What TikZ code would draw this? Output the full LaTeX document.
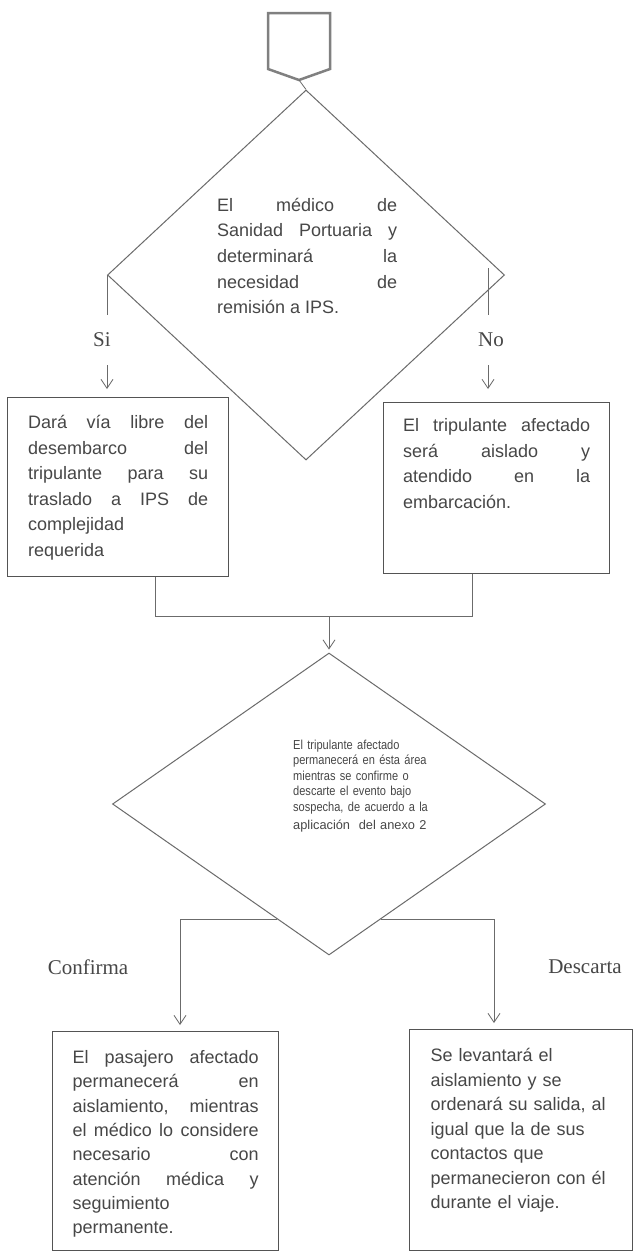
\documentclass[tikz,border=0pt]{standalone}
\usepackage{fontspec}
\setmainfont{Liberation Sans}
\newfontfamily\labelfont{Liberation Serif}
\newfontfamily\narrowfont[FakeStretch=0.85]{Liberation Sans}
\usepackage{tikz}
\usetikzlibrary{arrows.meta,shapes.geometric,calc}
\definecolor{inkline}{gray}{0.42}
\definecolor{inkbox}{gray}{0.33}
\definecolor{inktext}{gray}{0.28}
\tikzset{
  line/.style={draw=inkline,line width=0.8pt},
  flow/.style={line,-{Straight Barb[length=9pt,width=12pt]}},
  decision/.style={diamond,draw=inkline,line width=1pt,inner sep=0pt},
  process/.style={rectangle,draw=inkbox,line width=1.2pt,inner ysep=0pt,
    text=inktext,font=\fontsize{18}{25.5}\selectfont,align=justify,anchor=north west},
  answer/.style={text=inktext,font=\labelfont\fontsize{21}{21}\selectfont,
    inner sep=0pt,minimum height=50pt},
}
\newcommand{\qtext}{\fontsize{18}{25.7}\selectfont}

\begin{document}
\begin{tikzpicture}[x=1pt,y=-1pt]
\path[use as bounding box,fill=white] (0,0) rectangle (637,1258);
% \draw[help lines,step=50] (0,0) grid (637,1258);
%
% off-page connector
\draw[draw=gray,line width=2.5pt,line join=miter]
  (268,13) -- (330,13) -- (330,69) -- (299,80) -- (268,69) -- cycle;
\coordinate (start) at (299,80);
%
\node (d1) [decision,minimum width=397pt,minimum height=370pt] at (306,275) {};
\node (d1txt) [text=inktext,font=\qtext,text width=180pt,align=justify,
  inner sep=0pt,anchor=base west] at (217,211)
  {El médico de\linebreak Sanidad Portuaria y\linebreak determinará la\linebreak
   necesidad de\linebreak remisión a IPS.};
\draw[line] (start) -- (d1.north);
%
\node (si) [answer] at (102,340) {Si};
\node (no) [answer] at (491,340) {No};
\coordinate (notop) at (488,268);
%
\node (lbox) [process,text width=180pt,inner xsep=20.5pt,text height=31pt,text depth=148pt]
  at (7,397) {Dará vía libre del\linebreak desembarco del\linebreak tripulante para su\linebreak
  traslado a IPS de\linebreak complejidad\\ requerida};
\node (rbox) [process,text width=187pt,inner xsep=19.5pt,text height=29pt,text depth=142pt]
  at (383,402) {El tripulante afectado\linebreak será aislado y\linebreak atendido en la\linebreak
  embarcación.};
%
\draw[line] (d1.west) -- (d1.west |- si.north);
\draw[flow,shorten >=8pt] (d1.west |- si.south) -- (d1.west |- lbox.north);
\draw[line] (notop) -- (notop |- no.north);
\draw[flow,shorten >=13pt] (notop |- no.south) -- (notop |- rbox.north);
%
\coordinate (lj) at (155,616);
\coordinate (rj) at (472,616);
\coordinate (join) at (329,616);
\draw[line] (lbox.south -| lj) -- (lj) -- (rj) -- (rbox.south -| rj);
%
\node (d2) [decision,minimum width=433pt,minimum height=302pt] at (329,804) {};
\node (d2txt) [text=inktext,font=\narrowfont\fontsize{13}{15.5}\selectfont,text width=140pt,
  align=left,inner sep=0pt,anchor=base west] at (293,749)
  {El tripulante afectado\\ permanecerá en ésta área\\ mientras se confirme o\\
   descarte el evento bajo\\ sospecha, de acuerdo a la\\[2.5pt]
   {\rmfamily\fontsize{12.8}{15.5}\selectfont aplicación~ del anexo 2}};
\draw[flow,shorten >=3pt] (join) -- (d2.north);
%
\node (conf) [answer] at (88,967) {Confirma};
\node (desc) [answer] at (585,967) {Descarta};
%
\node (blbox) [process,text width=186pt,inner xsep=20pt,text height=32pt,text depth=187pt,
  font=\fontsize{18}{24.3}\selectfont] at (52,1031)
  {El pasajero afectado\linebreak permanecerá en\linebreak aislamiento, mientras\linebreak
  el médico lo considere\linebreak necesario con\linebreak atención médica y\linebreak
  seguimiento\\ permanente.};
\node (brbox) [process,text width=181pt,inner xsep=21pt,text height=32pt,text depth=189pt,
  align=left,font=\fontsize{18}{24.5}\selectfont] at (409,1029)
  {Se levantará el\\ aislamiento y se\\ ordenará su salida, al\\ igual que la de sus\\
  contactos que\\ permanecieron con él\\ durante el viaje.};
%
\coordinate (cl) at (180,919);
\coordinate (cr) at (494,919);
\coordinate (el) at ($(d2.south)!0.24!(d2.west)$);
\coordinate (er) at ($(d2.south)!0.24!(d2.east)$);
\draw[flow,shorten >=6pt] (el) -- (el -| cl) -- (cl |- blbox.north);
\draw[flow,shorten >=6pt] (er) -- (er -| cr) -- (cr |- brbox.north);
\end{tikzpicture}
\end{document}
